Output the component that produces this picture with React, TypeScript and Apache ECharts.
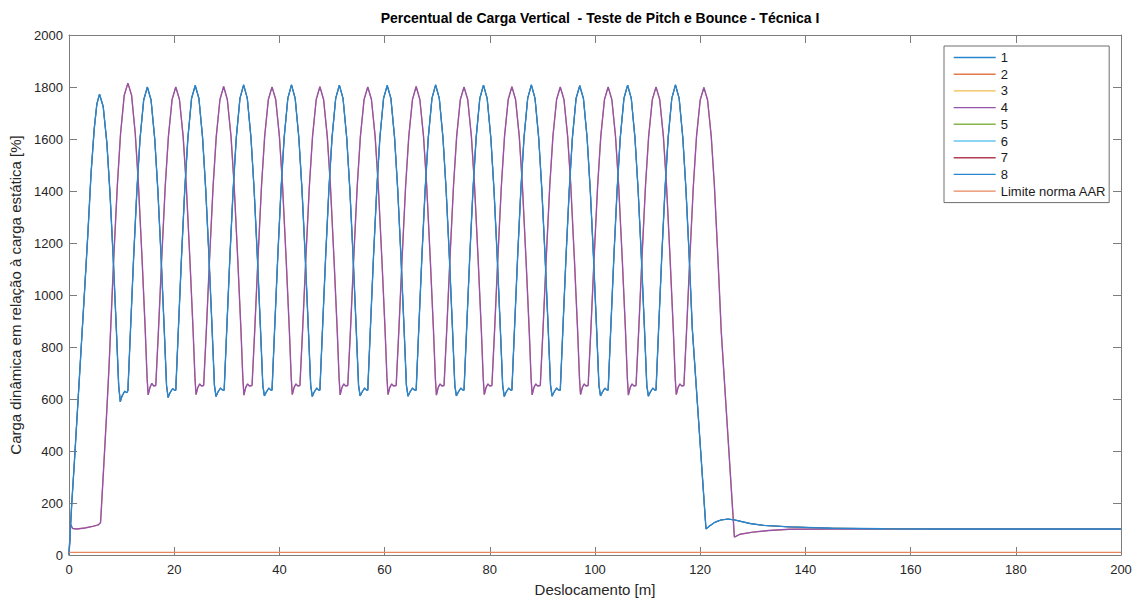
import React, { useEffect, useRef } from "react";
import * as echarts from "echarts";

// ---- Data ----
const chartTitle = "Percentual de Carga Vertical  - Teste de Pitch e Bounce - Técnica I";
const xAxisName = "Deslocamento [m]";
const yAxisName = "Carga dinâmica em relação à carga estática [%]";
const seriesNames = ["1", "2", "3", "4", "5", "6", "7", "8"];
const limitName = "Limite norma AAR";
const limitValue = 10;
const xMin = 0, xMax = 200, xStep = 20;
const yMin = 0, yMax = 2000, yStep = 200;

// wheel group A (blue curve: series 1, 5, 6, 7, 8)
const grupoA: [number, number][] = [
  [0, 0], [0.5, 190], [1.0, 350], [2.0, 690], [3.0, 1030], [3.6, 1240], [4.2, 1470], [4.8, 1640], [5.3, 1735], [5.8, 1772],
  [6.5, 1725], [7.2, 1585], [7.8, 1390], [8.4, 1145], [9.0, 870], [9.45, 650], [9.75, 590], [10.1, 612], [10.6, 630], [11.0, 624],
  [11.2, 632], [11.7, 870], [12.3, 1150], [12.9, 1400], [13.5, 1600], [14.2, 1750], [14.9, 1800], [15.6, 1750], [16.3, 1600], [16.9, 1400], [17.5, 1150], [18.1, 870], [18.55, 650], [18.85, 606], [19.2, 624], [19.7, 640], [20.1, 633],
  [20.3, 634], [20.8, 872], [21.4, 1152], [22.0, 1403], [22.6, 1604], [23.3, 1756], [24.0, 1806], [24.7, 1756], [25.4, 1604], [26.0, 1403], [26.6, 1152], [27.2, 872], [27.65, 652], [27.95, 610], [28.3, 626], [28.8, 642], [29.2, 634],
  [29.5, 634], [30.0, 872], [30.6, 1152], [31.2, 1403], [31.8, 1604], [32.5, 1756], [33.2, 1808], [33.9, 1756], [34.6, 1604], [35.2, 1403], [35.8, 1152], [36.4, 872], [36.85, 652], [37.15, 612], [37.5, 626], [38.0, 642], [38.4, 634],
  [38.6, 634], [39.1, 872], [39.7, 1152], [40.3, 1403], [40.9, 1604], [41.6, 1756], [42.3, 1808], [43.0, 1756], [43.7, 1604], [44.3, 1403], [44.9, 1152], [45.5, 872], [45.95, 652], [46.25, 610], [46.6, 626], [47.1, 642], [47.5, 634],
  [47.7, 634], [48.2, 872], [48.8, 1152], [49.4, 1403], [50.0, 1604], [50.7, 1756], [51.4, 1807], [52.1, 1756], [52.8, 1604], [53.4, 1403], [54.0, 1152], [54.6, 872], [55.05, 652], [55.35, 612], [55.7, 626], [56.2, 642], [56.6, 634],
  [56.8, 634], [57.3, 872], [57.9, 1152], [58.5, 1403], [59.1, 1604], [59.8, 1756], [60.5, 1806], [61.2, 1756], [61.9, 1604], [62.5, 1403], [63.1, 1152], [63.7, 872], [64.15, 652], [64.45, 611], [64.8, 626], [65.3, 642], [65.7, 634],
  [66.0, 634], [66.5, 872], [67.1, 1152], [67.7, 1403], [68.3, 1604], [69.0, 1756], [69.7, 1808], [70.4, 1756], [71.1, 1604], [71.7, 1403], [72.3, 1152], [72.9, 872], [73.35, 652], [73.65, 612], [74.0, 626], [74.5, 642], [74.9, 634],
  [75.1, 634], [75.6, 872], [76.2, 1152], [76.8, 1403], [77.4, 1604], [78.1, 1756], [78.8, 1807], [79.5, 1756], [80.2, 1604], [80.8, 1403], [81.4, 1152], [82.0, 872], [82.45, 652], [82.75, 610], [83.1, 626], [83.6, 642], [84.0, 634],
  [84.2, 634], [84.7, 872], [85.3, 1152], [85.9, 1403], [86.5, 1604], [87.2, 1756], [87.9, 1808], [88.6, 1756], [89.3, 1604], [89.9, 1403], [90.5, 1152], [91.1, 872], [91.55, 652], [91.85, 611], [92.2, 626], [92.7, 642], [93.1, 634],
  [93.4, 634], [93.9, 872], [94.5, 1152], [95.1, 1403], [95.7, 1604], [96.4, 1756], [97.1, 1805], [97.8, 1756], [98.5, 1604], [99.1, 1403], [99.7, 1152], [100.3, 872], [100.75, 652], [101.05, 612], [101.4, 626], [101.9, 642], [102.3, 634],
  [102.5, 634], [103.0, 872], [103.6, 1152], [104.2, 1403], [104.8, 1604], [105.5, 1756], [106.2, 1807], [106.9, 1756], [107.6, 1604], [108.2, 1403], [108.8, 1152], [109.4, 872], [109.85, 652], [110.15, 611], [110.5, 626], [111.0, 642], [111.4, 634],
  [111.6, 634], [112.1, 872], [112.7, 1152], [113.3, 1403], [113.9, 1604], [114.6, 1756], [115.3, 1808], [116.0, 1756], [116.7, 1604], [117.3, 1403], [117.9, 1152], [118.5, 870],
  [121.1, 100], [121.8, 112], [122.8, 126], [124.0, 135], [125.3, 138], [126.5, 135], [128.0, 128], [129.5, 121], [132.0, 114], [137.0, 108], [145.0, 103], [155.0, 101], [165.0, 100], [200.0, 100],
];

// wheel group B (purple curve: series 2, 3, 4)
const grupoB: [number, number][] = [
  [0, 0], [0.3, 118], [0.7, 102], [1.5, 100], [3.0, 104], [4.5, 110], [5.6, 116], [6.0, 125], [6.6, 340], [7.2, 560], [7.6, 720],
  [7.9, 860], [8.5, 1140], [9.2, 1425], [9.8, 1620], [10.5, 1768], [11.2, 1815], [11.9, 1768], [12.6, 1620], [13.2, 1425], [13.9, 1135], [14.5, 862], [14.85, 680], [15.05, 616], [15.4, 645], [15.75, 660], [16.1, 650],
  [16.5, 652], [17.0, 860], [17.6, 1130], [18.3, 1420], [18.9, 1610], [19.6, 1752], [20.3, 1800], [21.0, 1752], [21.7, 1610], [22.3, 1420], [23.0, 1130], [23.6, 860], [23.95, 680], [24.15, 617], [24.5, 645], [24.85, 658], [25.2, 650],
  [25.6, 652], [26.1, 860], [26.7, 1130], [27.4, 1420], [28.0, 1610], [28.7, 1752], [29.4, 1802], [30.1, 1752], [30.8, 1610], [31.4, 1420], [32.1, 1130], [32.7, 860], [33.05, 680], [33.25, 615], [33.6, 645], [33.95, 658], [34.3, 650],
  [34.8, 652], [35.3, 860], [35.9, 1130], [36.6, 1420], [37.2, 1610], [37.9, 1752], [38.6, 1800], [39.3, 1752], [40.0, 1610], [40.6, 1420], [41.3, 1130], [41.9, 860], [42.25, 680], [42.45, 617], [42.8, 645], [43.15, 658], [43.5, 650],
  [43.9, 652], [44.4, 860], [45.0, 1130], [45.7, 1420], [46.3, 1610], [47.0, 1752], [47.7, 1801], [48.4, 1752], [49.1, 1610], [49.7, 1420], [50.4, 1130], [51.0, 860], [51.35, 680], [51.55, 616], [51.9, 645], [52.25, 658], [52.6, 650],
  [53.0, 652], [53.5, 860], [54.1, 1130], [54.8, 1420], [55.4, 1610], [56.1, 1752], [56.8, 1800], [57.5, 1752], [58.2, 1610], [58.8, 1420], [59.5, 1130], [60.1, 860], [60.45, 680], [60.65, 617], [61.0, 645], [61.35, 658], [61.7, 650],
  [62.2, 652], [62.7, 860], [63.3, 1130], [64.0, 1420], [64.6, 1610], [65.3, 1752], [66.0, 1802], [66.7, 1752], [67.4, 1610], [68.0, 1420], [68.7, 1130], [69.3, 860], [69.65, 680], [69.85, 615], [70.2, 645], [70.55, 658], [70.9, 650],
  [71.3, 652], [71.8, 860], [72.4, 1130], [73.1, 1420], [73.7, 1610], [74.4, 1752], [75.1, 1800], [75.8, 1752], [76.5, 1610], [77.1, 1420], [77.8, 1130], [78.4, 860], [78.75, 680], [78.95, 617], [79.3, 645], [79.65, 658], [80.0, 650],
  [80.4, 652], [80.9, 860], [81.5, 1130], [82.2, 1420], [82.8, 1610], [83.5, 1752], [84.2, 1801], [84.9, 1752], [85.6, 1610], [86.2, 1420], [86.9, 1130], [87.5, 860], [87.85, 680], [88.05, 616], [88.4, 645], [88.75, 658], [89.1, 650],
  [89.6, 652], [90.1, 860], [90.7, 1130], [91.4, 1420], [92.0, 1610], [92.7, 1752], [93.4, 1800], [94.1, 1752], [94.8, 1610], [95.4, 1420], [96.1, 1130], [96.7, 860], [97.05, 680], [97.25, 617], [97.6, 645], [97.95, 658], [98.3, 650],
  [98.7, 652], [99.2, 860], [99.8, 1130], [100.5, 1420], [101.1, 1610], [101.8, 1752], [102.5, 1800], [103.2, 1752], [103.9, 1610], [104.5, 1420], [105.2, 1130], [105.8, 860], [106.15, 680], [106.35, 615], [106.7, 645], [107.05, 658], [107.4, 650],
  [107.8, 652], [108.3, 860], [108.9, 1130], [109.6, 1420], [110.2, 1610], [110.9, 1752], [111.6, 1800], [112.3, 1752], [113.0, 1610], [113.6, 1420], [114.3, 1130], [114.9, 860], [115.25, 680], [115.45, 617], [115.8, 645], [116.15, 658], [116.5, 650],
  [116.9, 652], [117.4, 860], [118.0, 1130], [118.7, 1420], [119.3, 1610], [120.0, 1750], [120.7, 1798], [121.4, 1750], [122.1, 1610], [122.7, 1420], [123.4, 1130], [124.0, 860],
  [126.5, 69], [127.6, 80], [130.0, 88], [133.0, 94], [137.0, 99], [145.0, 100], [200.0, 100],
];

// which curve each legend series follows
const seriesGroup = ["A", "B", "B", "B", "A", "A", "A", "A"];
const seriesColors = ["#2a86cc", "#e07a4a", "#efbd4f", "#9452ab", "#86b64a", "#66c6ee", "#b33a55", "#2a86cc"];
const limitColor = "#e8875e";
const limitLine: [number, number][] = [[xMin, limitValue], [xMax, limitValue]];

const FONT = "'Liberation Sans', Arial, Helvetica, sans-serif";
const AXIS_COLOR = "#262626";
const BOX_COLOR = "#7d7d7d";

export default function App() {
  const ref = useRef<HTMLDivElement>(null);
  useEffect(() => {
    if (!ref.current) return;
    const chart = echarts.init(ref.current, undefined, { renderer: "svg" });
    const topOfGroup = [false, false, false, true, false, false, false, true];
    const lineSeries: any[] = seriesNames.map((name, i) => ({
      name,
      type: "line",
      data: seriesGroup[i] === "A" ? grupoA : grupoB,
      symbol: "none",
      showSymbol: false,
      lineStyle: { width: topOfGroup[i] ? 1.4 : 0.8, color: seriesColors[i] },
      itemStyle: { color: seriesColors[i] },
      emphasis: { disabled: true },
    }));
    lineSeries.push({
      name: limitName,
      type: "line",
      data: limitLine,
      symbol: "none",
      showSymbol: false,
      lineStyle: { width: 1.4, color: limitColor },
      itemStyle: { color: limitColor },
      emphasis: { disabled: true },
    });
    const axisBase = {
      type: "value",
      min: xMin,
      max: xMax,
      interval: xStep,
      splitLine: { show: false },
      axisLine: { show: true, onZero: false, lineStyle: { color: BOX_COLOR, width: 1 } },
      axisTick: { show: true, inside: true, length: 8, lineStyle: { color: BOX_COLOR } },
    };
    chart.setOption({
      animation: false,
      backgroundColor: "#ffffff",
      title: {
        text: chartTitle,
        left: 595,
        top: 6,
        textAlign: "center",
        textStyle: { fontFamily: FONT, fontSize: 14, fontWeight: "bold", color: "#000" },
      },
      legend: {
        orient: "vertical",
        left: 944,
        top: 46,
        data: [...seriesNames, limitName],
        itemWidth: 42,
        itemHeight: 14,
        itemGap: 3.7,
        itemTextGap: 5,
        padding: [5, 3, 5, 9],
        backgroundColor: "#ffffff",
        borderColor: "#6e6e6e",
        borderWidth: 1,
        borderRadius: 0,
        itemStyle: { opacity: 0 },
        lineStyle: { width: 1.4 },
        textStyle: { fontFamily: FONT, fontSize: 13, color: "#1a1a1a" },
        selectedMode: false,
      },
      grid: { left: 69, right: 18, top: 35, bottom: 48, containLabel: false },
      xAxis: [
        {
          ...axisBase,
          position: "bottom",
          name: xAxisName,
          nameLocation: "middle",
          nameGap: 27,
          nameTextStyle: { fontFamily: FONT, fontSize: 15, color: AXIS_COLOR },
          axisLabel: { fontFamily: FONT, fontSize: 13, color: AXIS_COLOR, margin: 8, formatter: (v: number) => String(v) },
        },
        { ...axisBase, position: "top", axisLabel: { show: false } },
      ],
      yAxis: [
        {
          ...axisBase,
          min: yMin,
          max: yMax,
          interval: yStep,
          position: "left",
          name: yAxisName,
          nameLocation: "middle",
          nameGap: 37,
          nameTextStyle: { fontFamily: FONT, fontSize: 15, color: AXIS_COLOR },
          axisLabel: { fontFamily: FONT, fontSize: 13, color: AXIS_COLOR, margin: 6, formatter: (v: number) => String(v) },
        },
        {
          ...axisBase,
          min: yMin,
          max: yMax,
          interval: yStep,
          position: "right",
          axisLabel: { show: false },
        },
      ],
      series: lineSeries,
    });
    return () => chart.dispose();
  }, []);
  return (
    <div
      ref={ref}
      style={{ position: "fixed", left: 0, top: 0, width: 1139, height: 603, background: "#fff" }}
    />
  );
}
